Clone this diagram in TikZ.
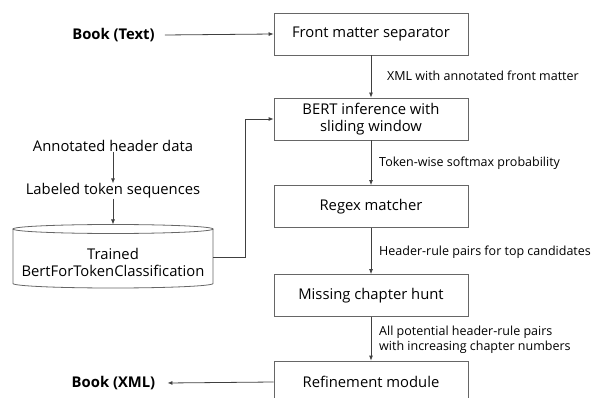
\documentclass[tikz,border=0pt]{standalone}
\usepackage{fontspec}
\setmainfont{Open Sans}
\usetikzlibrary{arrows.meta}
\begin{document}
\begin{tikzpicture}[x=1pt,y=-1pt,
  procbox/.style={draw=black!60, line width=0.8pt, minimum width=194pt, minimum height=42pt, inner sep=2pt, align=center, font=\fontsize{14.8}{16.5}\selectfont},
  lbl/.style={anchor=west, align=left, inner sep=0pt, font=\fontsize{12.5}{15}\selectfont},
  plain/.style={align=center, inner sep=0pt, font=\fontsize{14.8}{17}\selectfont},
  io/.style={inner sep=0pt, font=\fontsize{14.8}{16}\selectfont\bfseries},
  conn/.style={draw=black!75, line width=0.8pt, -{Latex[length=5pt,width=4pt]}},
  edge/.style={draw=black!75, line width=0.8pt}]
\useasboundingbox (0,0) rectangle (592,398);
\clip (0,0) rectangle (592,398);
% process boxes
\node[procbox] (b1) at (371,34) {Front matter separator};
\node[procbox] (b2) at (371,119) {BERT inference with\\sliding window};
\node[procbox] (b3) at (371,206.5) {Regex matcher};
\node[procbox] (b4) at (371,295.5) {Missing chapter hunt};
\node[procbox] (b5) at (371,382) {Refinement module};
% inputs / outputs
\node[io] (bt) at (113.5,35) {Book (Text)};
\node[io] (bx) at (113.5,383) {Book (XML)};
% training side
\node[plain] (ahd) at (113,146) {Annotated header data};
\node[plain] (lts) at (113,191) {Labeled token sequences};
\draw[draw=black!60, line width=0.8pt] (13,229) -- (13,283.5) arc[start angle=180, end angle=360, x radius=100pt, y radius=4.5pt] -- (213,229);
\draw[draw=black!60, line width=0.8pt] (113,229) ellipse[x radius=100pt, y radius=4.5pt];
\node[plain, minimum width=200pt] (cyl) at (113,262) {Trained\\BertForTokenClassification};
\coordinate (cylr) at (213,257);
\coordinate (cylt) at (113,224.5);
\coordinate (bend) at (245,257);
% connectors
\draw[conn] (bt.east) ++(10,0) coordinate (btr) -- (b1.west);
\draw[conn] (b1) -- (b2);
\draw[conn] (b2) -- (b3);
\draw[conn] (b3) -- (b4);
\draw[conn] (b4) -- (b5);
\draw[conn] (b5.west) -- ([xshift=12pt]bx.east);
\draw[conn] (ahd) -- (lts);
\draw[conn] (lts) -- (cylt);
\draw[conn] (cylr) -- (bend) |- (b2.west);
% labels
\node[lbl] (l1) at (387,76) {XML with annotated front matter};
\node[lbl] (l2) at (379,163) {Token-wise softmax probability};
\node[lbl] (l3) at (379,252) {Header-rule pairs for top candidates};
\node[lbl] (l4) at (379,340) {All potential header-rule pairs\\with increasing chapter numbers};
\end{tikzpicture}
\end{document}
